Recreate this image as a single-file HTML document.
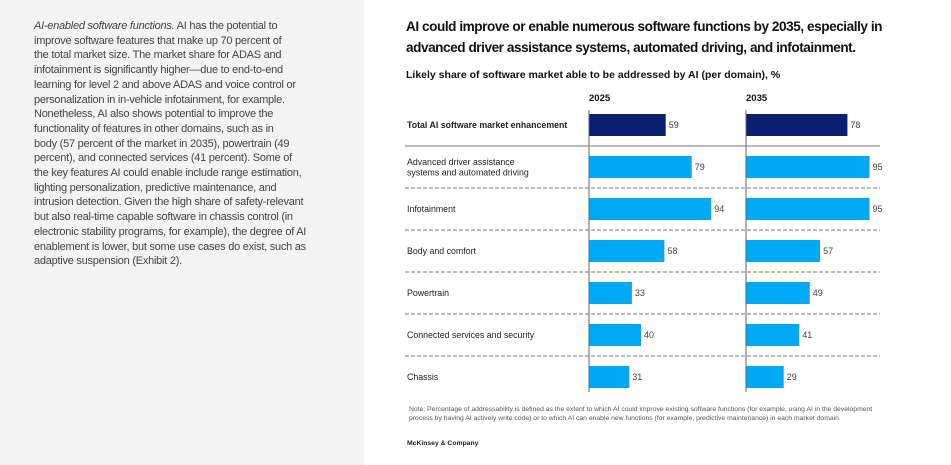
<!DOCTYPE html>
<html><head><meta charset="utf-8"><style>
body{margin:0;width:951px;height:465px;overflow:hidden;background:#fff;font-family:"Liberation Sans",sans-serif;position:relative}
#left{position:absolute;left:0;top:0;width:364px;height:465px;background:#f3f3f3}
#left p{position:absolute;left:34px;top:19px;margin:0;font-size:11px;letter-spacing:-0.25px;line-height:14.7px;color:#444;white-space:nowrap}
#title{position:absolute;left:406px;top:16px;font-size:13.6px;letter-spacing:-0.45px;font-weight:bold;line-height:21px;color:#111;white-space:nowrap}
#sub{position:absolute;left:406px;top:69px;font-size:10.5px;font-weight:bold;color:#111}
svg{position:absolute;left:0;top:0}
#note{position:absolute;left:409px;top:406px;font-size:6.8px;line-height:8.5px;color:#555;white-space:nowrap}
#brand{position:absolute;left:407px;top:440px;font-size:6.8px;font-weight:bold;color:#222}
</style></head><body>
<div id="left"><p><i>AI-enabled software functions.</i> AI has the potential to<br>improve software features that make up 70 percent of<br>the total market size. The market share for ADAS and<br>infotainment is significantly higher—due to end-to-end<br>learning for level 2 and above ADAS and voice control or<br>personalization in in-vehicle infotainment, for example.<br>Nonetheless, AI also shows potential to improve the<br>functionality of features in other domains, such as in<br>body (57 percent of the market in 2035), powertrain (49<br>percent), and connected services (41 percent). Some of<br>the key features AI could enable include range estimation,<br>lighting personalization, predictive maintenance, and<br>intrusion detection. Given the high share of safety-relevant<br>but also real-time capable software in chassis control (in<br>electronic stability programs, for example), the degree of AI<br>enablement is lower, but some use cases do exist, such as<br>adaptive suspension (Exhibit 2).</p></div>
<div id="title">AI could improve or enable numerous software functions by 2035, especially in<br>advanced driver assistance systems, automated driving, and infotainment.</div>
<div id="sub">Likely share of software market able to be addressed by AI (per domain), %</div>
<svg id="chart" width="951" height="465"></svg>
<div id="note">Note: Percentage of addressability is defined as the extent to which AI could improve existing software functions (for example, using AI in the development<br>process by having AI actively write code) or to which AI can enable new functions (for example, predictive maintenance) in each market domain.</div>
<div id="brand">McKinsey &amp; Company</div>
<script>
const categories=["Total AI software market enhancement","Advanced driver assistance|systems and automated driving","Infotainment","Body and comfort","Powertrain","Connected services and security","Chassis"];
const years=["2025","2035"];
const values2025=[59,79,94,58,33,40,31];
const values2035=[78,95,95,57,49,41,29];
const NS="http://www.w3.org/2000/svg";
const svg=document.getElementById('chart');
function mk(t,a){const e=document.createElementNS(NS,t);for(const k in a)e.setAttribute(k,a[k]);svg.appendChild(e);return e;}
const x0=[589,746],scale=1.3,rowTop=104,rowH=42,barH=22;
const y=i=>rowTop+i*rowH+rowH/2;
const xs=(p,v)=>x0[p]+v*scale;
for(let i=0;i<categories.length-1;i++){
  const yy=rowTop+(i+1)*rowH;
  const l=mk('line',{x1:405,x2:880,y1:yy,y2:yy,stroke:'#777','stroke-width':1,'stroke-dasharray':i==0?'':'4,2'});
  
  
}
[values2025,values2035].forEach((vals,p)=>{
  const h=mk('text',{x:x0[p],y:101,'font-size':9.5,'font-weight':'bold',fill:'#111'});h.textContent=years[p];
  
  
  vals.forEach((v,i)=>{
    const r=mk('rect',{x:x0[p],y:y(i)-barH/2,width:xs(p,v)-x0[p],height:barH,fill:i==0?'#0b1f72':'#00a9f4'});
    
    
    const t=mk('text',{x:xs(p,v)+3,y:y(i)+3,'font-size':9,fill:'#444'});t.textContent=v;
    
    
  });
  const ax=mk('line',{x1:x0[p],x2:x0[p],y1:110,y2:392,stroke:'#666','stroke-width':1});
  
  
});
categories.forEach((c,i)=>{
  const parts=c.split('|');
  parts.forEach((s,j)=>{
    const t=mk('text',{x:407,y:y(i)+3+(j-(parts.length-1)/2)*10.5,'font-size':8.8,fill:'#222','font-weight':i==0?'bold':'normal'});
    t.textContent=s;
    
    
  });
});
</script>
</body></html>
